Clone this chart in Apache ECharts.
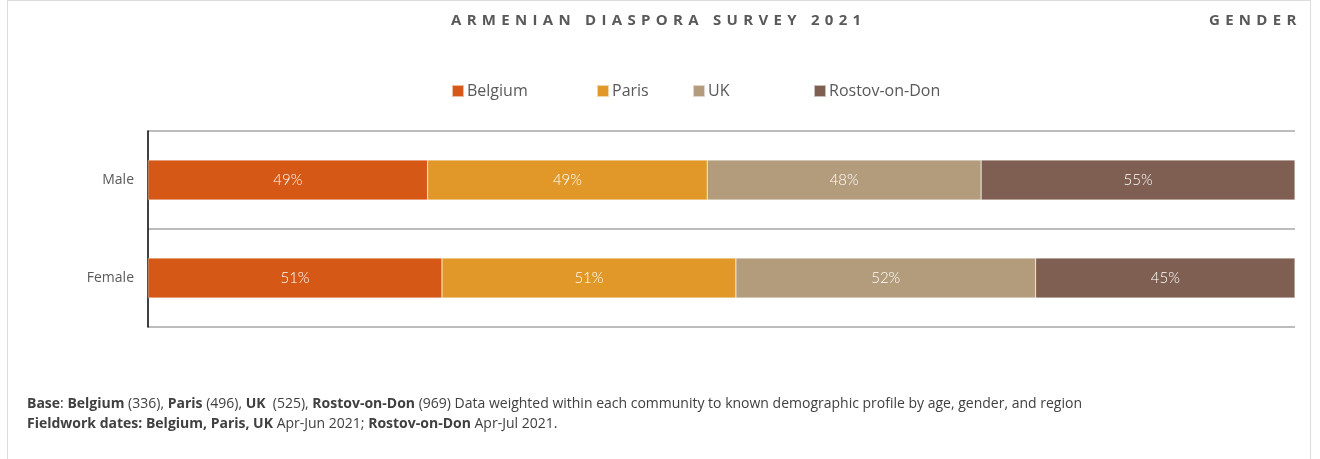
<!DOCTYPE html>
<html>
<head>
<meta charset="utf-8">
<script src="https://cdn.jsdelivr.net/npm/echarts@6/dist/echarts.min.js"></script>
<style>
  html, body { margin: 0; padding: 0; background: #fff; }
  #wrap { position: relative; width: 1320px; height: 459px; overflow: hidden; }
  #chart { position: absolute; left: 0; top: 0; width: 1320px; height: 459px; }
  .frame { position: absolute; left: 7px; top: 0; width: 1304px; height: 470px;
           border: 1px solid #dcdcdc; box-sizing: border-box; pointer-events: none; }
  .head { position: absolute; top: 9px; font-family: "Open Sans", sans-serif; font-weight: 700;
          font-size: 15px; color: #595959; letter-spacing: 5.3px; white-space: nowrap; }
</style>
</head>
<body>
<div id="wrap">
  <div id="chart"></div>
  <div class="frame"></div>
  <div class="head" style="left:451px">ARMENIAN DIASPORA SURVEY 2021</div>
  <div class="head" style="left:1209px">GENDER</div>
</div>
<script>
// categories (top to bottom)
var categories = ['Male', 'Female'];
// series
var seriesNames = ['Belgium', 'Paris', 'UK', 'Rostov-on-Don'];
var belgium = [49, 51];
var paris = [49, 51];
var uk = [48, 52];
var rostov = [55, 45];

var colors = ['#D55816', '#E19828', '#B39C7C', '#7F5F51'];
var legendLeft = [446, 591, 687, 808];

var allData = [belgium, paris, uk, rostov];

// each row is drawn as share of its own total (bars fill the whole width)
var rowTotals = categories.map(function (c, i) {
  var s = 0;
  for (var k = 0; k < allData.length; k++) s += allData[k][i];
  return s;
});

var series = [];
for (var k = 0; k < allData.length; k++) {
  series.push({
    name: seriesNames[k],
    type: 'bar',
    stack: 'total',
    barWidth: 40,
    data: allData[k].map(function (v, i) {
      return { value: v / rowTotals[i] * 100, raw: v };
    }),
    itemStyle: { color: colors[k], borderColor: 'rgba(255,255,255,0.6)', borderWidth: 0.5 },
    label: {
      show: true,
      position: 'inside',
      color: '#fff',
      fontFamily: 'Lato',
      fontWeight: 300,
      fontSize: 15,
      formatter: function (p) { return p.data.raw + '%'; }
    },
    emphasis: { disabled: true }
  });
}

var legends = seriesNames.map(function (n, i) {
  return {
    data: [n],
    left: legendLeft[i],
    top: 78,
    itemWidth: 12,
    itemHeight: 12,
    itemGap: 0,
    icon: 'rect',
    selectedMode: false,
    textStyle: { color: '#595959', fontSize: 16, fontFamily: 'Open Sans', padding: [0, 0, 0, -2] }
  };
});

var option = {
  animation: false,
  legend: legends,
  grid: { left: 148, right: 25, top: 131, bottom: 132 },
  xAxis: {
    type: 'value', min: 0, max: 100,
    show: false
  },
  yAxis: {
    type: 'category',
    data: categories,
    inverse: true,
    axisLine: { show: true, lineStyle: { color: '#000', width: 1.5 } },
    axisTick: { show: false },
    axisLabel: { color: '#595959', fontSize: 14, fontFamily: 'Open Sans', margin: 14 },
    splitLine: { show: true, lineStyle: { color: '#a6a6a6', width: 1.5 } }
  },
  graphic: [{
    type: 'text',
    left: 27,
    top: 394,
    style: {
      text: '{b|Base}: {b|Belgium} (336), {b|Paris} (496), {b|UK}  (525), {b|Rostov-on-Don} (969) Data weighted within each community to known demographic profile by age, gender, and region\n' +
            '{b|Fieldwork dates: Belgium, Paris, UK} Apr-Jun 2021; {b|Rostov-on-Don} Apr-Jul 2021.',
      font: '14px "Open Sans", sans-serif',
      fill: '#404040',
      lineHeight: 20,
      rich: {
        b: { fontWeight: 'bold', fontFamily: '"Open Sans", sans-serif', fontSize: 14, fill: '#404040' }
      }
    }
  }],
  series: series
};

var myChart = echarts.init(document.getElementById('chart'));
myChart.setOption(option);
</script>
</body>
</html>
